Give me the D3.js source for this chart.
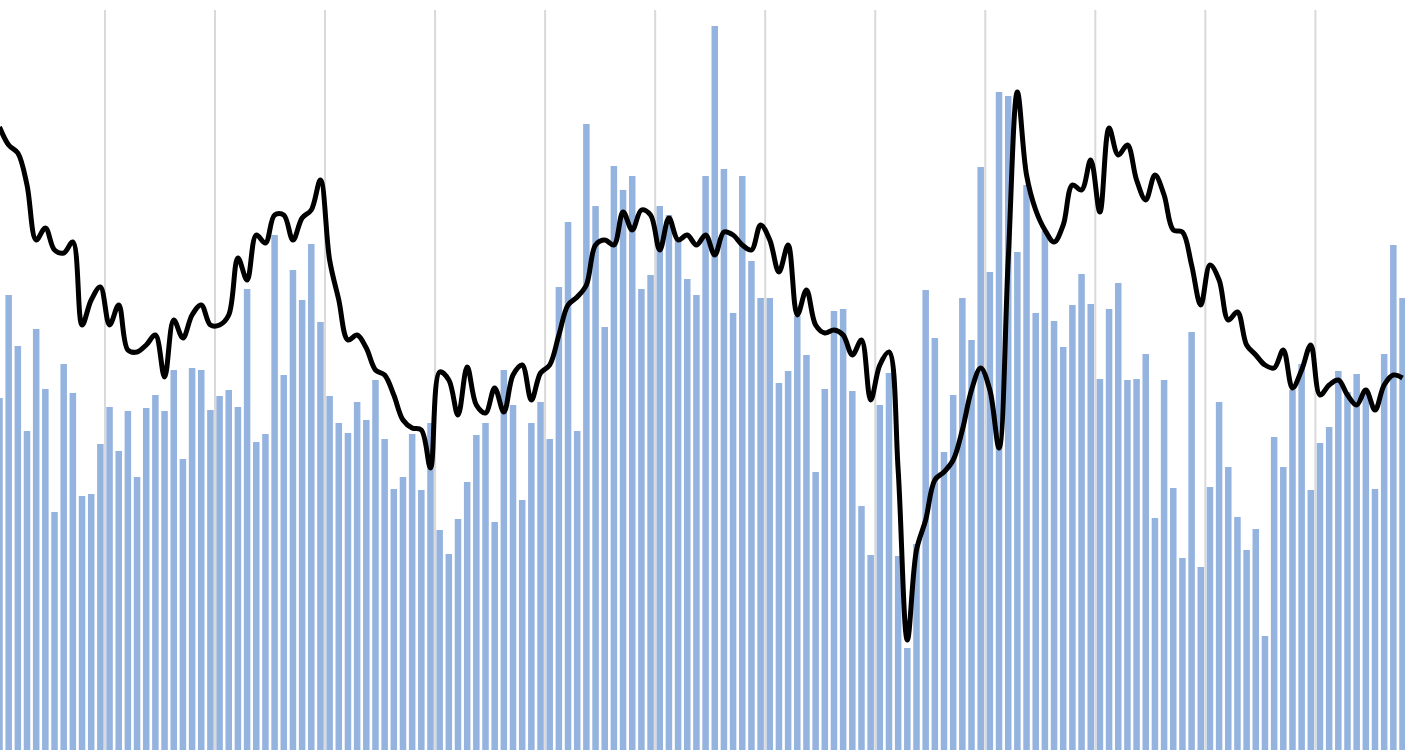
<!DOCTYPE html>
<html><head><meta charset="utf-8">
<script src="https://cdn.jsdelivr.net/npm/d3@7/dist/d3.min.js"></script>
<style>html,body{margin:0;padding:0;background:#fff;overflow:hidden}</style>
</head><body>
<svg id="c" width="1405" height="750"></svg>
<script>
const barValues = [352,455,404,319,421,361,238,386,357,254,256,306,343,299,339,273,342,355,339,380,291,382,380,340,354,360,343,461,308,316,515,375,480,450,506,428,354,327,317,348,330,370,311,261,273,316,260,327,220,196,231,268,315,327,228,380,345,250,327,348,311,463,528,319,626,544,423,584,560,574,461,475,544,535,511,471,455,574,724,581,437,574,489,452,452,367,379,434,395,278,361,439,441,359,244,195,345,377,194,102,206,460,412,298,355,452,410,583,478,658,654,498,565,437,519,429,403,445,476,446,371,441,467,370,371,396,232,370,262,192,418,183,263,348,283,233,200,221,114,313,283,360,386,260,307,323,379,358,376,358,261,396,505,452];
const lineValues = [623,605,597,565,510,522,500,497,508,425,450,463,425,445,400,398,405,415,373,430,412,435,445,425,425,435,492,470,515,507,535,535,510,532,540,570,490,450,410,415,402,380,375,355,330,322,320,282,378,370,335,383,345,337,362,338,375,385,350,377,385,415,445,453,465,505,510,505,538,520,540,535,500,532,510,515,505,515,495,518,515,505,500,525,510,478,505,435,460,425,417,420,415,395,410,350,385,398,280,110,200,230,270,278,290,320,360,382,360,302,490,658,575,540,520,508,525,565,560,590,538,622,595,605,570,550,575,555,520,518,485,445,485,470,430,438,405,395,385,382,400,362,380,405,355,365,370,355,345,360,340,365,375,372];
const months = barValues.map((d,i)=>i);
const gridEvery = 12;

const svg = d3.select('#c');
const step = 9.17, start = -5.085;
const x = d3.scaleBand().domain(months).range([start, start + step*months.length]).paddingInner(0.29).paddingOuter(0.145);
const y = d3.scaleLinear().domain([0,750]).range([750,0]);

const gridIdx = months.filter(i => i>0 && i % gridEvery === 0);
svg.append('g').selectAll('line').data(gridIdx).join('line')
  .attr('x1', i => x(i) - x.step()*x.paddingInner()/2 ).attr('x2', i => x(i) - x.step()*x.paddingInner()/2)
  .attr('y1', 10).attr('y2', 750).attr('stroke', '#d9d9d9').attr('stroke-width', 2);

svg.append('g').selectAll('rect').data(barValues).join('rect')
  .attr('x', (d,i) => x(i)).attr('width', x.bandwidth())
  .attr('y', d => y(d)).attr('height', d => y(0) - y(d))
  .attr('fill', '#95b3df');

const line = d3.line().x((d,i) => x(i) + x.bandwidth()/2).y(d => y(d)).curve(d3.curveCatmullRom.alpha(0.5));
svg.append('path').datum(lineValues).attr('d', line)
  .attr('fill','none').attr('stroke','#000').attr('stroke-width',5).attr('stroke-linejoin','round');
</script>
</body></html>
